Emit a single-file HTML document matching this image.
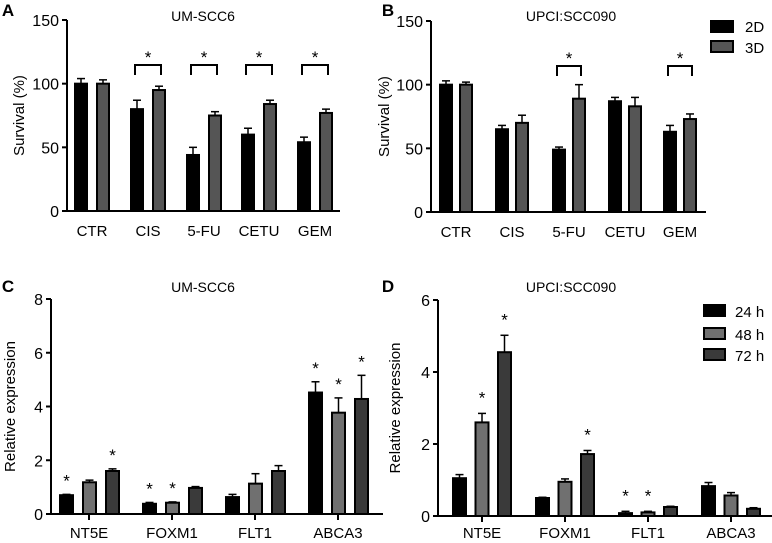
<!DOCTYPE html>
<html><head><meta charset="utf-8"><style>
body{margin:0;background:#fff}
svg{display:block;font-family:"Liberation Sans","DejaVu Sans",sans-serif}
</style></head><body>
<svg id="s" width="772" height="543" viewBox="0 0 772 543" xmlns="http://www.w3.org/2000/svg"></svg>
<script>
const s=document.getElementById('s');let h='';
function T(x,y,t,o){o=o||{};h+=`<text x="${x}" y="${y}" font-size="${o.fs||13}" text-anchor="${o.a||'middle'}" ${o.b?'font-weight="bold"':''} ${o.r?`transform="rotate(-90 ${x} ${y})"`:''} fill="#000">${t}</text>`;}
function L(x1,y1,x2,y2,w){h+=`<line x1="${x1}" y1="${y1}" x2="${x2}" y2="${y2}" stroke="#000" stroke-width="${w||2}"/>`;}
function bar(x0,x1,v,e,top,bot,max,fill){const k=(bot-top)/max;const y=bot-v*k;const ye=bot-(v+e)*k;const cx=(x0+x1)/2;
L(cx,ye,cx,y,1.5);L(cx-4,ye,cx+4,ye,1.5);
h+=`<rect x="${x0+1}" y="${y}" width="${x1-x0-2}" height="${bot-y}" fill="${fill}" stroke="#000" stroke-width="2"/>`;}
function axis(ax,top,bot,xend,max,step,title,ty){L(ax,top,ax,bot+1);L(ax-1,bot,xend,bot);
for(let v=0;v<=max;v+=step){const y=bot-v*(bot-top)/max;L(ax-5,y,ax,y);T(ax-8,y+6,v,{a:'end',fs:16});}
T(ty,(top+bot)/2,title,{r:1,fs:15});}
function star(x,y){T(x,y,'*',{fs:17});}
function bracket(x0,x1,y){h+=`<path d="M${x0} ${y+10}V${y}H${x1}V${y+10}" fill="none" stroke="#000" stroke-width="2"/>`;star((x0+x1)/2,y-2);}
T(8,16,'A',{b:1,fs:17});T(203,21,'UM-SCC6',{fs:14});
axis(67,20,211,340,150,50,'Survival (%)',24);
const gA=[74,130,186,241,297],lab1=['CTR','CIS','5-FU','CETU','GEM'];
const A=[[100,4,100,3],[80,7,95,3],[44,6,75,3],[60,5,84,3],[54,4,77,3]];
gA.forEach((x,i)=>{bar(x,x+14,A[i][0],A[i][1],20,211,150,'#000');bar(x+22,x+36,A[i][2],A[i][3],20,211,150,'#555');T(x+18,236,lab1[i],{fs:15});if(i>0)bracket(x+5,x+31,65);});
T(388,16,'B',{b:1,fs:17});T(571,21,'UPCI:SCC090',{fs:14});
axis(431,21,212,706,150,50,'Survival (%)',389);
const gB=[439,495,552,608,663];
const B=[[100,3,100,2],[65,3,70,6],[49,2,89,11],[87,3,83,7],[63,5,73,4]];
gB.forEach((x,i)=>{bar(x,x+14,B[i][0],B[i][1],21,212,150,'#000');bar(x+20,x+34,B[i][2],B[i][3],21,212,150,'#555');T(x+17,237,lab1[i],{fs:15});if(i==2||i==4)bracket(x+5,x+29,66);});
h+=`<rect x="711" y="21" width="22" height="11" fill="#000" stroke="#000" stroke-width="2"/><rect x="711" y="41" width="22" height="11" fill="#555" stroke="#000" stroke-width="2"/>`;
T(745,32,'2D',{a:'start',fs:15});T(745,53,'3D',{a:'start',fs:15});
const lab2=['NT5E','FOXM1','FLT1','ABCA3'],fills=['#000','#707070','#3a3a3a'];
T(8,292,'C',{b:1,fs:17});T(203,292,'UM-SCC6',{fs:14});
axis(51,299,514,383,8,2,'Relative expression',15);
const C=[[.7,.03,1.18,.08,1.6,.08],[.38,.05,.42,.03,.97,.05],[.63,.1,1.13,.37,1.6,.2],[4.52,.4,3.77,.55,4.28,.88]];
const sC=[[1,0,1],[1,1,0],[0,0,0],[1,1,1]];
[59,142,225,308].forEach((x,i)=>{for(let j=0;j<3;j++){const x0=x+j*23;bar(x0,x0+15,C[i][2*j],C[i][2*j+1],299,514,8,fills[j]);
if(sC[i][j]){const yt=514-(C[i][2*j]+C[i][2*j+1])*215/8;star(x0+7.5,yt-8);}}
L(x+30,514,x+30,520);T(x+30,538,lab2[i],{fs:15});});
T(388,292,'D',{b:1,fs:17});T(571,292,'UPCI:SCC090',{fs:14});
axis(438,300,516,772,6,2,'Relative expression',400);
const D=[[1.05,.1,2.6,.25,4.55,.47],[.5,.02,.95,.08,1.72,.1],[.08,.05,.1,.03,.25,.02],[.83,.1,.57,.08,.2,.03]];
const sD=[[0,1,1],[0,0,1],[1,1,0],[0,0,0]];
[452,535,618,701].forEach((x,i)=>{for(let j=0;j<3;j++){const x0=x+j*22.5;bar(x0,x0+15,D[i][2*j],D[i][2*j+1],300,516,6,fills[j]);
if(sD[i][j]){const yt=516-(D[i][2*j]+D[i][2*j+1])*216/6;star(x0+7.5,yt-10);}}
L(x+30,516,x+30,522);T(x+30,538,lab2[i],{fs:15});});
[['24 h',305,'#000'],['48 h',328,'#707070'],['72 h',349,'#3a3a3a']].forEach(a=>{h+=`<rect x="704" y="${a[1]}" width="21" height="11" fill="${a[2]}" stroke="#000" stroke-width="2"/>`;T(735,a[1]+12,a[0],{a:'start',fs:15});});
s.innerHTML=h;
</script>
</body></html>
